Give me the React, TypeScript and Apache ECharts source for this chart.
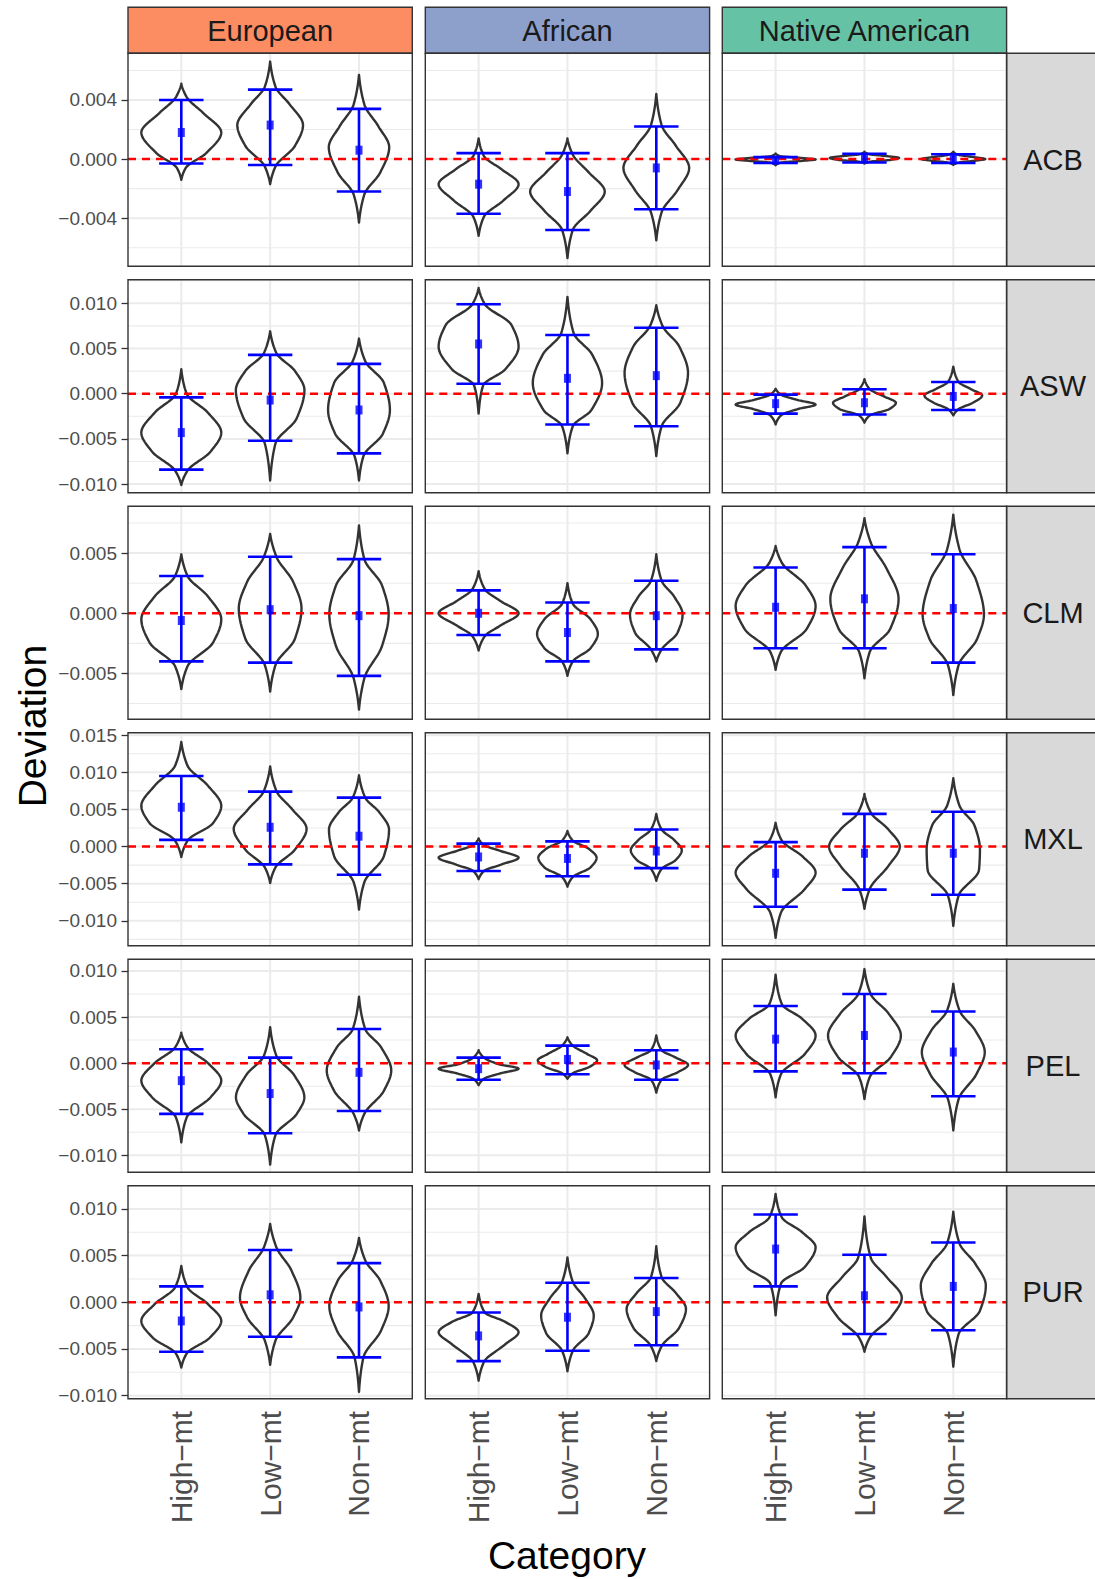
import React, { useEffect, useRef } from "react";
import * as echarts from "echarts";

// ---------- categories / facets ----------
const categories = ["High−mt", "Low−mt", "Non−mt"];
const ancestries = ["European", "African", "Native American"];
const populations = ["ACB", "ASW", "CLM", "MXL", "PEL", "PUR"];
const stripColors = ["#FC8D62", "#8DA0CB", "#66C2A5"];
const referenceLine = 0;

// ---------- y scales per row (free y per population) ----------
const yMin = [-0.00726, -0.01096, -0.00881, -0.01337, -0.01184, -0.01034];
const yMax = [0.00716, 0.0126, 0.00889, 0.01533, 0.01126, 0.01248];
const majorTicks = [
  [-0.004, 0, 0.004],
  [-0.01, -0.005, 0, 0.005, 0.01],
  [-0.005, 0, 0.005],
  [-0.01, -0.005, 0, 0.005, 0.01, 0.015],
  [-0.01, -0.005, 0, 0.005, 0.01],
  [-0.01, -0.005, 0, 0.005, 0.01],
];
const minorTicks = [
  [-0.006, -0.002, 0.002, 0.006],
  [-0.0075, -0.0025, 0.0025, 0.0075, 0.0125],
  [-0.0075, -0.0025, 0.0025, 0.0075],
  [-0.0125, -0.0075, -0.0025, 0.0025, 0.0075, 0.0125],
  [-0.0075, -0.0025, 0.0025, 0.0075],
  [-0.0075, -0.0025, 0.0025, 0.0075],
];

// order in each row: European H/L/N, African H/L/N, Native American H/L/N
// ---------- ACB ----------
const acbMean = [0.0018, 0.0023, 0.0006, -0.0017, -0.0022, -0.0006, -0.00007, 0.00007, 0.0];
const acbLower = [-0.0003, -0.0004, -0.0022, -0.0037, -0.0048, -0.0034, -0.00027, -0.00023, -0.00027];
const acbUpper = [0.004, 0.0047, 0.0034, 0.0004, 0.0004, 0.0022, 0.00013, 0.00036, 0.00033];
const acbViolins = [
  [[-0.0014, 0], [-0.0006, 0.05], [0.0004, 0.28], [0.0018, 0.45], [0.0031, 0.25], [0.0042, 0.06], [0.0051, 0]],
  [[-0.0017, 0], [-0.0005, 0.06], [0.0009, 0.28], [0.0023, 0.37], [0.0037, 0.22], [0.0049, 0.06], [0.0066, 0]],
  [[-0.0043, 0], [-0.0024, 0.06], [-0.0009, 0.24], [0.0008, 0.34], [0.0022, 0.22], [0.0037, 0.06], [0.0057, 0]],
  [[-0.0052, 0], [-0.0039, 0.06], [-0.0028, 0.28], [-0.0017, 0.45], [-0.0007, 0.26], [0.0002, 0.06], [0.0014, 0]],
  [[-0.0067, 0], [-0.0048, 0.06], [-0.0035, 0.26], [-0.0022, 0.42], [-0.0009, 0.24], [0.0003, 0.06], [0.0014, 0]],
  [[-0.0055, 0], [-0.0036, 0.06], [-0.0021, 0.24], [-0.0006, 0.37], [0.0009, 0.22], [0.0023, 0.06], [0.0044, 0]],
  [[-0.00042, 0], [-0.00025, 0.05], [-0.00012, 0.3], [-0.00003, 0.45], [0.00008, 0.28], [0.0002, 0.05], [0.00038, 0]],
  [[-0.0003, 0], [-0.00018, 0.06], [-0.00005, 0.3], [0.00008, 0.39], [0.0002, 0.25], [0.00033, 0.05], [0.0005, 0]],
  [[-0.0004, 0], [-0.00025, 0.05], [-0.0001, 0.26], [0, 0.36], [0.00012, 0.24], [0.0003, 0.05], [0.0005, 0]],
];

// ---------- ASW ----------
const aswMean = [-0.0043, -0.0007, -0.0018, 0.0055, 0.0017, 0.002, -0.0011, -0.001, -0.0003];
const aswLower = [-0.0084, -0.0052, -0.0066, 0.0011, -0.0034, -0.0036, -0.0022, -0.0023, -0.0018];
const aswUpper = [-0.0004, 0.0043, 0.0033, 0.0099, 0.0065, 0.0073, -0.0001, 0.0005, 0.0013];
const aswViolins = [
  [[-0.0101, 0], [-0.0085, 0.07], [-0.0064, 0.33], [-0.0043, 0.45], [-0.0021, 0.3], [0.0, 0.06], [0.0027, 0]],
  [[-0.0096, 0], [-0.0055, 0.06], [-0.0027, 0.3], [0.0004, 0.386], [0.0025, 0.28], [0.0045, 0.07], [0.0069, 0]],
  [[-0.0096, 0], [-0.0069, 0.05], [-0.0044, 0.27], [-0.0018, 0.348], [0.0012, 0.28], [0.0036, 0.07], [0.0061, 0]],
  [[-0.0022, 0], [0.0009, 0.05], [0.0027, 0.3], [0.0052, 0.45], [0.0076, 0.37], [0.0099, 0.07], [0.0117, 0]],
  [[-0.0066, 0], [-0.0036, 0.06], [-0.0018, 0.27], [0.0012, 0.39], [0.0043, 0.28], [0.0067, 0.07], [0.0107, 0]],
  [[-0.0069, 0], [-0.0036, 0.06], [-0.001, 0.27], [0.0023, 0.357], [0.0052, 0.26], [0.0075, 0.07], [0.0098, 0]],
  [[-0.0034, 0], [-0.0024, 0.06], [-0.0017, 0.25], [-0.0012, 0.45], [-0.0007, 0.25], [-0.0001, 0.06], [0.00055, 0]],
  [[-0.0032, 0], [-0.0024, 0.06], [-0.0017, 0.28], [-0.001, 0.354], [-0.0003, 0.22], [0.0005, 0.06], [0.0016, 0]],
  [[-0.0024, 0], [-0.0017, 0.06], [-0.001, 0.22], [-0.0002, 0.325], [0.0005, 0.2], [0.0013, 0.06], [0.003, 0]],
];

// ---------- CLM ----------
const clmMean = [-0.0006, 0.0003, -0.0002, 0.0, -0.0016, -0.0002, 0.0005, 0.0012, 0.0004];
const clmLower = [-0.004, -0.0041, -0.0052, -0.0018, -0.004, -0.003, -0.0029, -0.0029, -0.0041];
const clmUpper = [0.0031, 0.0047, 0.0045, 0.0019, 0.0009, 0.0027, 0.0038, 0.0055, 0.0049];
const clmViolins = [
  [[-0.0063, 0], [-0.0044, 0.07], [-0.0024, 0.36], [-0.0005, 0.45], [0.0014, 0.3], [0.0031, 0.07], [0.0049, 0]],
  [[-0.0065, 0], [-0.0043, 0.06], [-0.0021, 0.28], [0.0004, 0.353], [0.0026, 0.26], [0.0047, 0.07], [0.0066, 0]],
  [[-0.008, 0], [-0.0054, 0.06], [-0.0027, 0.26], [-0.0001, 0.334], [0.0023, 0.26], [0.0045, 0.06], [0.0073, 0]],
  [[-0.0031, 0], [-0.0019, 0.07], [-0.001, 0.25], [0.0, 0.45], [0.001, 0.25], [0.002, 0.07], [0.0035, 0]],
  [[-0.0052, 0], [-0.004, 0.06], [-0.0029, 0.26], [-0.0017, 0.342], [-0.0005, 0.26], [0.0008, 0.06], [0.0025, 0]],
  [[-0.004, 0], [-0.003, 0.06], [-0.0016, 0.24], [-0.0001, 0.296], [0.0014, 0.2], [0.0027, 0.06], [0.0049, 0]],
  [[-0.0047, 0], [-0.0032, 0.06], [-0.0013, 0.35], [0.0006, 0.45], [0.0023, 0.34], [0.0042, 0.07], [0.0056, 0]],
  [[-0.0054, 0], [-0.0032, 0.06], [-0.0013, 0.29], [0.0012, 0.384], [0.0037, 0.25], [0.0059, 0.07], [0.0079, 0]],
  [[-0.0068, 0], [-0.0043, 0.06], [-0.0021, 0.27], [-0.0001, 0.345], [0.0027, 0.26], [0.0053, 0.07], [0.0082, 0]],
];

// ---------- MXL ----------
const mxlMean = [0.0053, 0.0026, 0.0014, -0.0014, -0.0016, -0.0006, -0.0036, -0.0009, -0.0009];
const mxlLower = [0.0009, -0.0024, -0.0038, -0.0033, -0.004, -0.0029, -0.0081, -0.0058, -0.0065];
const mxlUpper = [0.0095, 0.0074, 0.0066, 0.0004, 0.0007, 0.0023, 0.0006, 0.0044, 0.0047];
const mxlViolins = [
  [[-0.0014, 0], [0.0008, 0.07], [0.0032, 0.36], [0.0055, 0.45], [0.0082, 0.3], [0.0109, 0.07], [0.0141, 0]],
  [[-0.0049, 0], [-0.0028, 0.06], [-0.0004, 0.28], [0.0024, 0.41], [0.005, 0.25], [0.0075, 0.07], [0.0108, 0]],
  [[-0.0085, 0], [-0.0048, 0.06], [-0.0013, 0.28], [0.0023, 0.338], [0.0046, 0.23], [0.0066, 0.07], [0.0096, 0]],
  [[-0.0044, 0], [-0.0033, 0.06], [-0.0024, 0.26], [-0.0015, 0.45], [-0.0006, 0.25], [0.0002, 0.06], [0.0011, 0]],
  [[-0.0054, 0], [-0.0041, 0.06], [-0.0028, 0.26], [-0.0015, 0.328], [-0.0003, 0.24], [0.0008, 0.06], [0.0021, 0]],
  [[-0.0046, 0], [-0.003, 0.06], [-0.0018, 0.22], [-0.0005, 0.287], [0.0009, 0.2], [0.0023, 0.06], [0.0044, 0]],
  [[-0.0123, 0], [-0.0089, 0.06], [-0.0057, 0.33], [-0.0035, 0.45], [-0.0013, 0.3], [0.0008, 0.07], [0.0032, 0]],
  [[-0.0084, 0], [-0.0057, 0.06], [-0.0026, 0.27], [0.0, 0.398], [0.0023, 0.27], [0.0046, 0.07], [0.0071, 0]],
  [[-0.0107, 0], [-0.0066, 0.06], [-0.0031, 0.29], [-0.0004, 0.3], [0.0028, 0.24], [0.0055, 0.07], [0.0092, 0]],
];

// ---------- PEL ----------
const pelMean = [-0.0019, -0.0033, -0.001, -0.0006, 0.0004, -0.0002, 0.0026, 0.003, 0.0012];
const pelLower = [-0.0055, -0.0076, -0.0052, -0.0018, -0.0012, -0.0018, -0.0009, -0.0011, -0.0036];
const pelUpper = [0.0015, 0.0006, 0.0037, 0.0006, 0.0019, 0.0014, 0.0062, 0.0075, 0.0056];
const pelViolins = [
  [[-0.0086, 0], [-0.0059, 0.06], [-0.0037, 0.33], [-0.0019, 0.45], [0.0, 0.3], [0.0017, 0.07], [0.0033, 0]],
  [[-0.011, 0], [-0.0078, 0.06], [-0.0055, 0.3], [-0.0037, 0.385], [-0.0013, 0.27], [0.0008, 0.07], [0.0039, 0]],
  [[-0.0073, 0], [-0.0055, 0.06], [-0.003, 0.28], [-0.0008, 0.363], [0.0017, 0.25], [0.0037, 0.07], [0.0072, 0]],
  [[-0.0024, 0], [-0.0017, 0.06], [-0.0011, 0.25], [-0.0006, 0.45], [-0.0001, 0.22], [0.0006, 0.06], [0.0014, 0]],
  [[-0.0017, 0], [-0.0011, 0.06], [-0.0004, 0.25], [0.0003, 0.334], [0.001, 0.22], [0.0019, 0.06], [0.0028, 0]],
  [[-0.0032, 0], [-0.0018, 0.06], [-0.001, 0.24], [-0.0002, 0.357], [0.0006, 0.22], [0.0014, 0.06], [0.003, 0]],
  [[-0.0037, 0], [-0.0012, 0.06], [0.001, 0.33], [0.003, 0.45], [0.0048, 0.3], [0.0064, 0.07], [0.0096, 0]],
  [[-0.0039, 0], [-0.0015, 0.06], [0.0007, 0.3], [0.003, 0.41], [0.0054, 0.27], [0.0075, 0.07], [0.0102, 0]],
  [[-0.0073, 0], [-0.0039, 0.06], [-0.0012, 0.26], [0.0012, 0.354], [0.0035, 0.25], [0.0057, 0.07], [0.0086, 0]],
];

// ---------- PUR ----------
const purMean = [-0.002, 0.0008, -0.0005, -0.0036, -0.0016, -0.001, 0.0057, 0.0007, 0.0017];
const purLower = [-0.0053, -0.0037, -0.0059, -0.0063, -0.0052, -0.0046, 0.0017, -0.0034, -0.003];
const purUpper = [0.0017, 0.0056, 0.0042, -0.0011, 0.0021, 0.0026, 0.0094, 0.0051, 0.0064];
const purViolins = [
  [[-0.007, 0], [-0.0055, 0.06], [-0.0038, 0.32], [-0.002, 0.45], [-0.0002, 0.3], [0.0016, 0.07], [0.0039, 0]],
  [[-0.0067, 0], [-0.0041, 0.06], [-0.0016, 0.26], [0.0005, 0.34], [0.0034, 0.24], [0.0059, 0.07], [0.0084, 0]],
  [[-0.0096, 0], [-0.0059, 0.05], [-0.003, 0.25], [-0.0004, 0.334], [0.0023, 0.24], [0.0045, 0.07], [0.0069, 0]],
  [[-0.0084, 0], [-0.0064, 0.06], [-0.0045, 0.3], [-0.0032, 0.45], [-0.0021, 0.3], [-0.0011, 0.07], [0.0009, 0]],
  [[-0.0074, 0], [-0.0052, 0.06], [-0.0033, 0.24], [-0.0014, 0.296], [0.0004, 0.2], [0.0022, 0.06], [0.0048, 0]],
  [[-0.0063, 0], [-0.0047, 0.06], [-0.0027, 0.26], [-0.0007, 0.334], [0.001, 0.22], [0.0027, 0.06], [0.006, 0]],
  [[-0.0014, 0], [0.002, 0.06], [0.0038, 0.33], [0.0059, 0.45], [0.0075, 0.3], [0.0091, 0.07], [0.0116, 0]],
  [[-0.0053, 0], [-0.0038, 0.06], [-0.0016, 0.3], [0.0005, 0.42], [0.0027, 0.25], [0.0048, 0.07], [0.0092, 0]],
  [[-0.0069, 0], [-0.0034, 0.06], [-0.0009, 0.3], [0.0018, 0.366], [0.0041, 0.25], [0.0063, 0.07], [0.0097, 0]],
];

const rowMeans = [acbMean, aswMean, clmMean, mxlMean, pelMean, purMean];
const rowLowers = [acbLower, aswLower, clmLower, mxlLower, pelLower, purLower];
const rowUppers = [acbUpper, aswUpper, clmUpper, mxlUpper, pelUpper, purUpper];
const rowViolins = [acbViolins, aswViolins, clmViolins, mxlViolins, pelViolins, purViolins];

// ---------- layout ----------
const FONT = "Liberation Sans, Arial, Helvetica, sans-serif";
const PANEL_LEFT = [128, 425.3, 722.3];
const PANEL_W = 284.3;
const PANEL_TOP = 53.3;
const ROW_STEP = 226.5;
const PANEL_H = 213;
const CAP_HALF = 0.25;

// monotone cubic (PCHIP) resampling of a violin outline between read knots
function profile(knots: number[][]): number[][] {
  const xs = knots.map((k) => k[0]);
  const ys = knots.map((k) => k[1]);
  const m = xs.length;
  const h: number[] = [];
  const d: number[] = [];
  for (let i = 0; i < m - 1; i++) {
    h[i] = xs[i + 1] - xs[i];
    d[i] = (ys[i + 1] - ys[i]) / h[i];
  }
  const s: number[] = new Array(m).fill(0);
  for (let i = 1; i < m - 1; i++) {
    if (d[i - 1] * d[i] <= 0) s[i] = 0;
    else {
      const w1 = 2 * h[i] + h[i - 1];
      const w2 = h[i] + 2 * h[i - 1];
      s[i] = (w1 + w2) / (w1 / d[i - 1] + w2 / d[i]);
    }
  }
  s[0] = d[0] * 0.5;
  s[m - 1] = d[m - 2] * 0.5;
  const out: number[][] = [];
  const steps = 14;
  for (let i = 0; i < m - 1; i++) {
    for (let j = 0; j < steps; j++) {
      const t = j / steps;
      const t2 = t * t;
      const t3 = t2 * t;
      const h00 = 2 * t3 - 3 * t2 + 1;
      const h10 = t3 - 2 * t2 + t;
      const h01 = -2 * t3 + 3 * t2;
      const h11 = t3 - t2;
      const y = h00 * ys[i] + h10 * h[i] * s[i] + h01 * ys[i + 1] + h11 * h[i] * s[i + 1];
      out.push([xs[i] + t * h[i], Math.max(0, y)]);
    }
  }
  out.push([xs[m - 1], ys[m - 1]]);
  return out;
}

function fmtY(v: number): string {
  const s = Math.abs(v) < 1e-12 ? "0.000" : v.toFixed(3);
  return s.replace("-", "−");
}

function buildOption() {
  const grid: any[] = [];
  const xAxis: any[] = [];
  const yAxis: any[] = [];
  const series: any[] = [];
  const graphic: any[] = [];

  for (let r = 0; r < populations.length; r++) {
    for (let c = 0; c < ancestries.length; c++) {
      const gi = r * 3 + c;
      const left = PANEL_LEFT[c];
      const top = PANEL_TOP + r * ROW_STEP;
      const isBottom = r === populations.length - 1;
      const isLeft = c === 0;
      grid.push({ left, top, width: PANEL_W, height: PANEL_H, containLabel: false });
      xAxis.push({
        type: "value",
        gridIndex: gi,
        min: 0.4,
        max: 3.6,
        axisLine: { show: false },
        splitLine: { show: false },
        axisTick: {
          show: isBottom,
          customValues: [1, 2, 3],
          length: 6.5,
          lineStyle: { color: "#333333", width: 1.3 },
        },
        axisLabel: {
          show: isBottom,
          customValues: [1, 2, 3],
          formatter: (v: number) => categories[Math.round(v) - 1],
          rotate: 90,
          fontSize: 30,
          color: "#4D4D4D",
          fontFamily: FONT,
          margin: 12,
        },
      });
      yAxis.push({
        type: "value",
        gridIndex: gi,
        min: yMin[r],
        max: yMax[r],
        axisLine: { show: false },
        splitLine: { show: false },
        axisTick: {
          show: isLeft,
          customValues: majorTicks[r],
          length: 6.5,
          lineStyle: { color: "#333333", width: 1.3 },
        },
        axisLabel: {
          show: isLeft,
          customValues: majorTicks[r],
          formatter: fmtY,
          fontSize: 19,
          color: "#4D4D4D",
          fontFamily: FONT,
          margin: 11,
        },
      });

      const major = majorTicks[r];
      const minor = minorTicks[r];
      // grid lines
      series.push({
        type: "custom",
        xAxisIndex: gi,
        yAxisIndex: gi,
        silent: true,
        z: 1,
        data: [[2, 0]],
        renderItem: (params: any, api: any) => {
          const cs = params.coordSys;
          const children: any[] = [];
          const hline = (v: number, w: number) => {
            const y = api.coord([2, v])[1];
            if (y < cs.y - 0.5 || y > cs.y + cs.height + 0.5) return;
            children.push({
              type: "line",
              shape: { x1: cs.x, y1: y, x2: cs.x + cs.width, y2: y },
              style: { stroke: "#EBEBEB", lineWidth: w },
            });
          };
          minor.forEach((v) => hline(v, 1.1));
          major.forEach((v) => hline(v, 2));
          [1, 2, 3].forEach((k) => {
            const x = api.coord([k, 0])[0];
            children.push({
              type: "line",
              shape: { x1: x, y1: cs.y, x2: x, y2: cs.y + cs.height },
              style: { stroke: "#EBEBEB", lineWidth: 2 },
            });
          });
          return { type: "group", children };
        },
      });

      // violins
      const violins = rowViolins[r];
      series.push({
        type: "custom",
        xAxisIndex: gi,
        yAxisIndex: gi,
        silent: true,
        z: 2,
        clip: true,
        data: [0, 1, 2].map((k) => [k + 1, 0, c * 3 + k]),
        renderItem: (params: any, api: any) => {
          const cat = api.value(0);
          const knots = violins[api.value(2)];
          const prof = profile(knots);
          const pts: number[][] = [];
          for (let i = 0; i < prof.length; i++) pts.push(api.coord([cat - prof[i][1], prof[i][0]]));
          for (let i = prof.length - 2; i >= 1; i--) pts.push(api.coord([cat + prof[i][1], prof[i][0]]));
          return {
            type: "polygon",
            shape: { points: pts },
            style: { fill: "#FFFFFF", stroke: "#333333", lineWidth: 2.4, lineJoin: "round" },
          };
        },
      });

      // zero reference line
      series.push({
        type: "custom",
        xAxisIndex: gi,
        yAxisIndex: gi,
        silent: true,
        z: 3,
        data: [[2, referenceLine]],
        renderItem: (params: any, api: any) => {
          const cs = params.coordSys;
          const y = api.coord([2, api.value(1)])[1];
          return {
            type: "line",
            shape: { x1: cs.x, y1: y, x2: cs.x + cs.width, y2: y },
            style: { stroke: "#FF0000", lineWidth: 2.5, lineDash: [8, 6] },
          };
        },
      });

      // error bars
      const lows = rowLowers[r];
      const ups = rowUppers[r];
      series.push({
        type: "custom",
        xAxisIndex: gi,
        yAxisIndex: gi,
        silent: true,
        z: 4,
        encode: { x: 0, y: [1, 2] },
        data: [0, 1, 2].map((k) => [k + 1, lows[c * 3 + k], ups[c * 3 + k]]),
        renderItem: (params: any, api: any) => {
          const x = api.value(0);
          const lo = api.value(1);
          const hi = api.value(2);
          const pLo = api.coord([x, lo]);
          const pHi = api.coord([x, hi]);
          const lL = api.coord([x - CAP_HALF, lo]);
          const lR = api.coord([x + CAP_HALF, lo]);
          const hL = api.coord([x - CAP_HALF, hi]);
          const hR = api.coord([x + CAP_HALF, hi]);
          const st = { stroke: "#0000FF", lineWidth: 2.6 };
          return {
            type: "group",
            children: [
              { type: "line", shape: { x1: pLo[0], y1: pLo[1], x2: pHi[0], y2: pHi[1] }, style: st },
              { type: "line", shape: { x1: lL[0], y1: lL[1], x2: lR[0], y2: lR[1] }, style: st },
              { type: "line", shape: { x1: hL[0], y1: hL[1], x2: hR[0], y2: hR[1] }, style: st },
            ],
          };
        },
      });

      // means
      const means = rowMeans[r];
      series.push({
        type: "scatter",
        xAxisIndex: gi,
        yAxisIndex: gi,
        silent: true,
        z: 5,
        symbol: "rect",
        symbolSize: [7, 9],
        itemStyle: { color: "#0000FF" },
        data: [0, 1, 2].map((k) => [k + 1, means[c * 3 + k]]),
      });

      // panel frame
      series.push({
        type: "custom",
        xAxisIndex: gi,
        yAxisIndex: gi,
        silent: true,
        z: 6,
        clip: false,
        data: [[2, 0]],
        renderItem: (params: any) => {
          const cs = params.coordSys;
          return {
            type: "rect",
            shape: { x: cs.x, y: cs.y, width: cs.width, height: cs.height },
            style: { fill: "none", stroke: "#333333", lineWidth: 1.4 },
          };
        },
      });
    }
  }

  // top strips
  ancestries.forEach((name, c) => {
    graphic.push({
      type: "rect",
      shape: { x: PANEL_LEFT[c], y: 7.3, width: PANEL_W, height: PANEL_TOP - 7.3 },
      style: { fill: stripColors[c], stroke: "#333333", lineWidth: 1.4 },
      silent: true,
    });
    graphic.push({
      type: "text",
      x: PANEL_LEFT[c] + PANEL_W / 2,
      y: (7.3 + PANEL_TOP) / 2 + 0.5,
      style: {
        text: name,
        fontSize: 29,
        fontFamily: FONT,
        fill: "#1A1A1A",
        align: "center",
        verticalAlign: "middle",
      },
      silent: true,
    });
  });
  // right strips
  const stripX = PANEL_LEFT[2] + PANEL_W;
  populations.forEach((name, r) => {
    const top = PANEL_TOP + r * ROW_STEP;
    graphic.push({
      type: "rect",
      shape: { x: stripX, y: top, width: 120, height: PANEL_H },
      style: { fill: "#D9D9D9", stroke: "#333333", lineWidth: 1.4 },
      silent: true,
    });
    graphic.push({
      type: "text",
      x: 1053,
      y: top + PANEL_H / 2,
      style: {
        text: name,
        fontSize: 29,
        fontFamily: FONT,
        fill: "#1A1A1A",
        align: "center",
        verticalAlign: "middle",
      },
      silent: true,
    });
  });
  // axis titles
  graphic.push({
    type: "text",
    x: 567,
    y: 1555,
    style: { text: "Category", fontSize: 39, fontFamily: FONT, fill: "#000000", align: "center", verticalAlign: "middle" },
    silent: true,
  });
  graphic.push({
    type: "text",
    x: 32,
    y: PANEL_TOP + (5 * ROW_STEP + PANEL_H) / 2,
    rotation: Math.PI / 2,
    style: { text: "Deviation", fontSize: 39, fontFamily: FONT, fill: "#000000", align: "center", verticalAlign: "middle" },
    silent: true,
  });

  return {
    animation: false,
    backgroundColor: "#FFFFFF",
    grid,
    xAxis,
    yAxis,
    series,
    graphic,
  };
}

export default function App() {
  const ref = useRef<HTMLDivElement>(null);
  useEffect(() => {
    if (!ref.current) return;
    const chart = echarts.init(ref.current, null, { renderer: "svg" });
    chart.setOption(buildOption() as any);
    return () => chart.dispose();
  }, []);
  return (
    <div
      ref={ref}
      style={{ position: "absolute", left: 0, top: 0, width: 1095, height: 1579, background: "#FFFFFF" }}
    />
  );
}
